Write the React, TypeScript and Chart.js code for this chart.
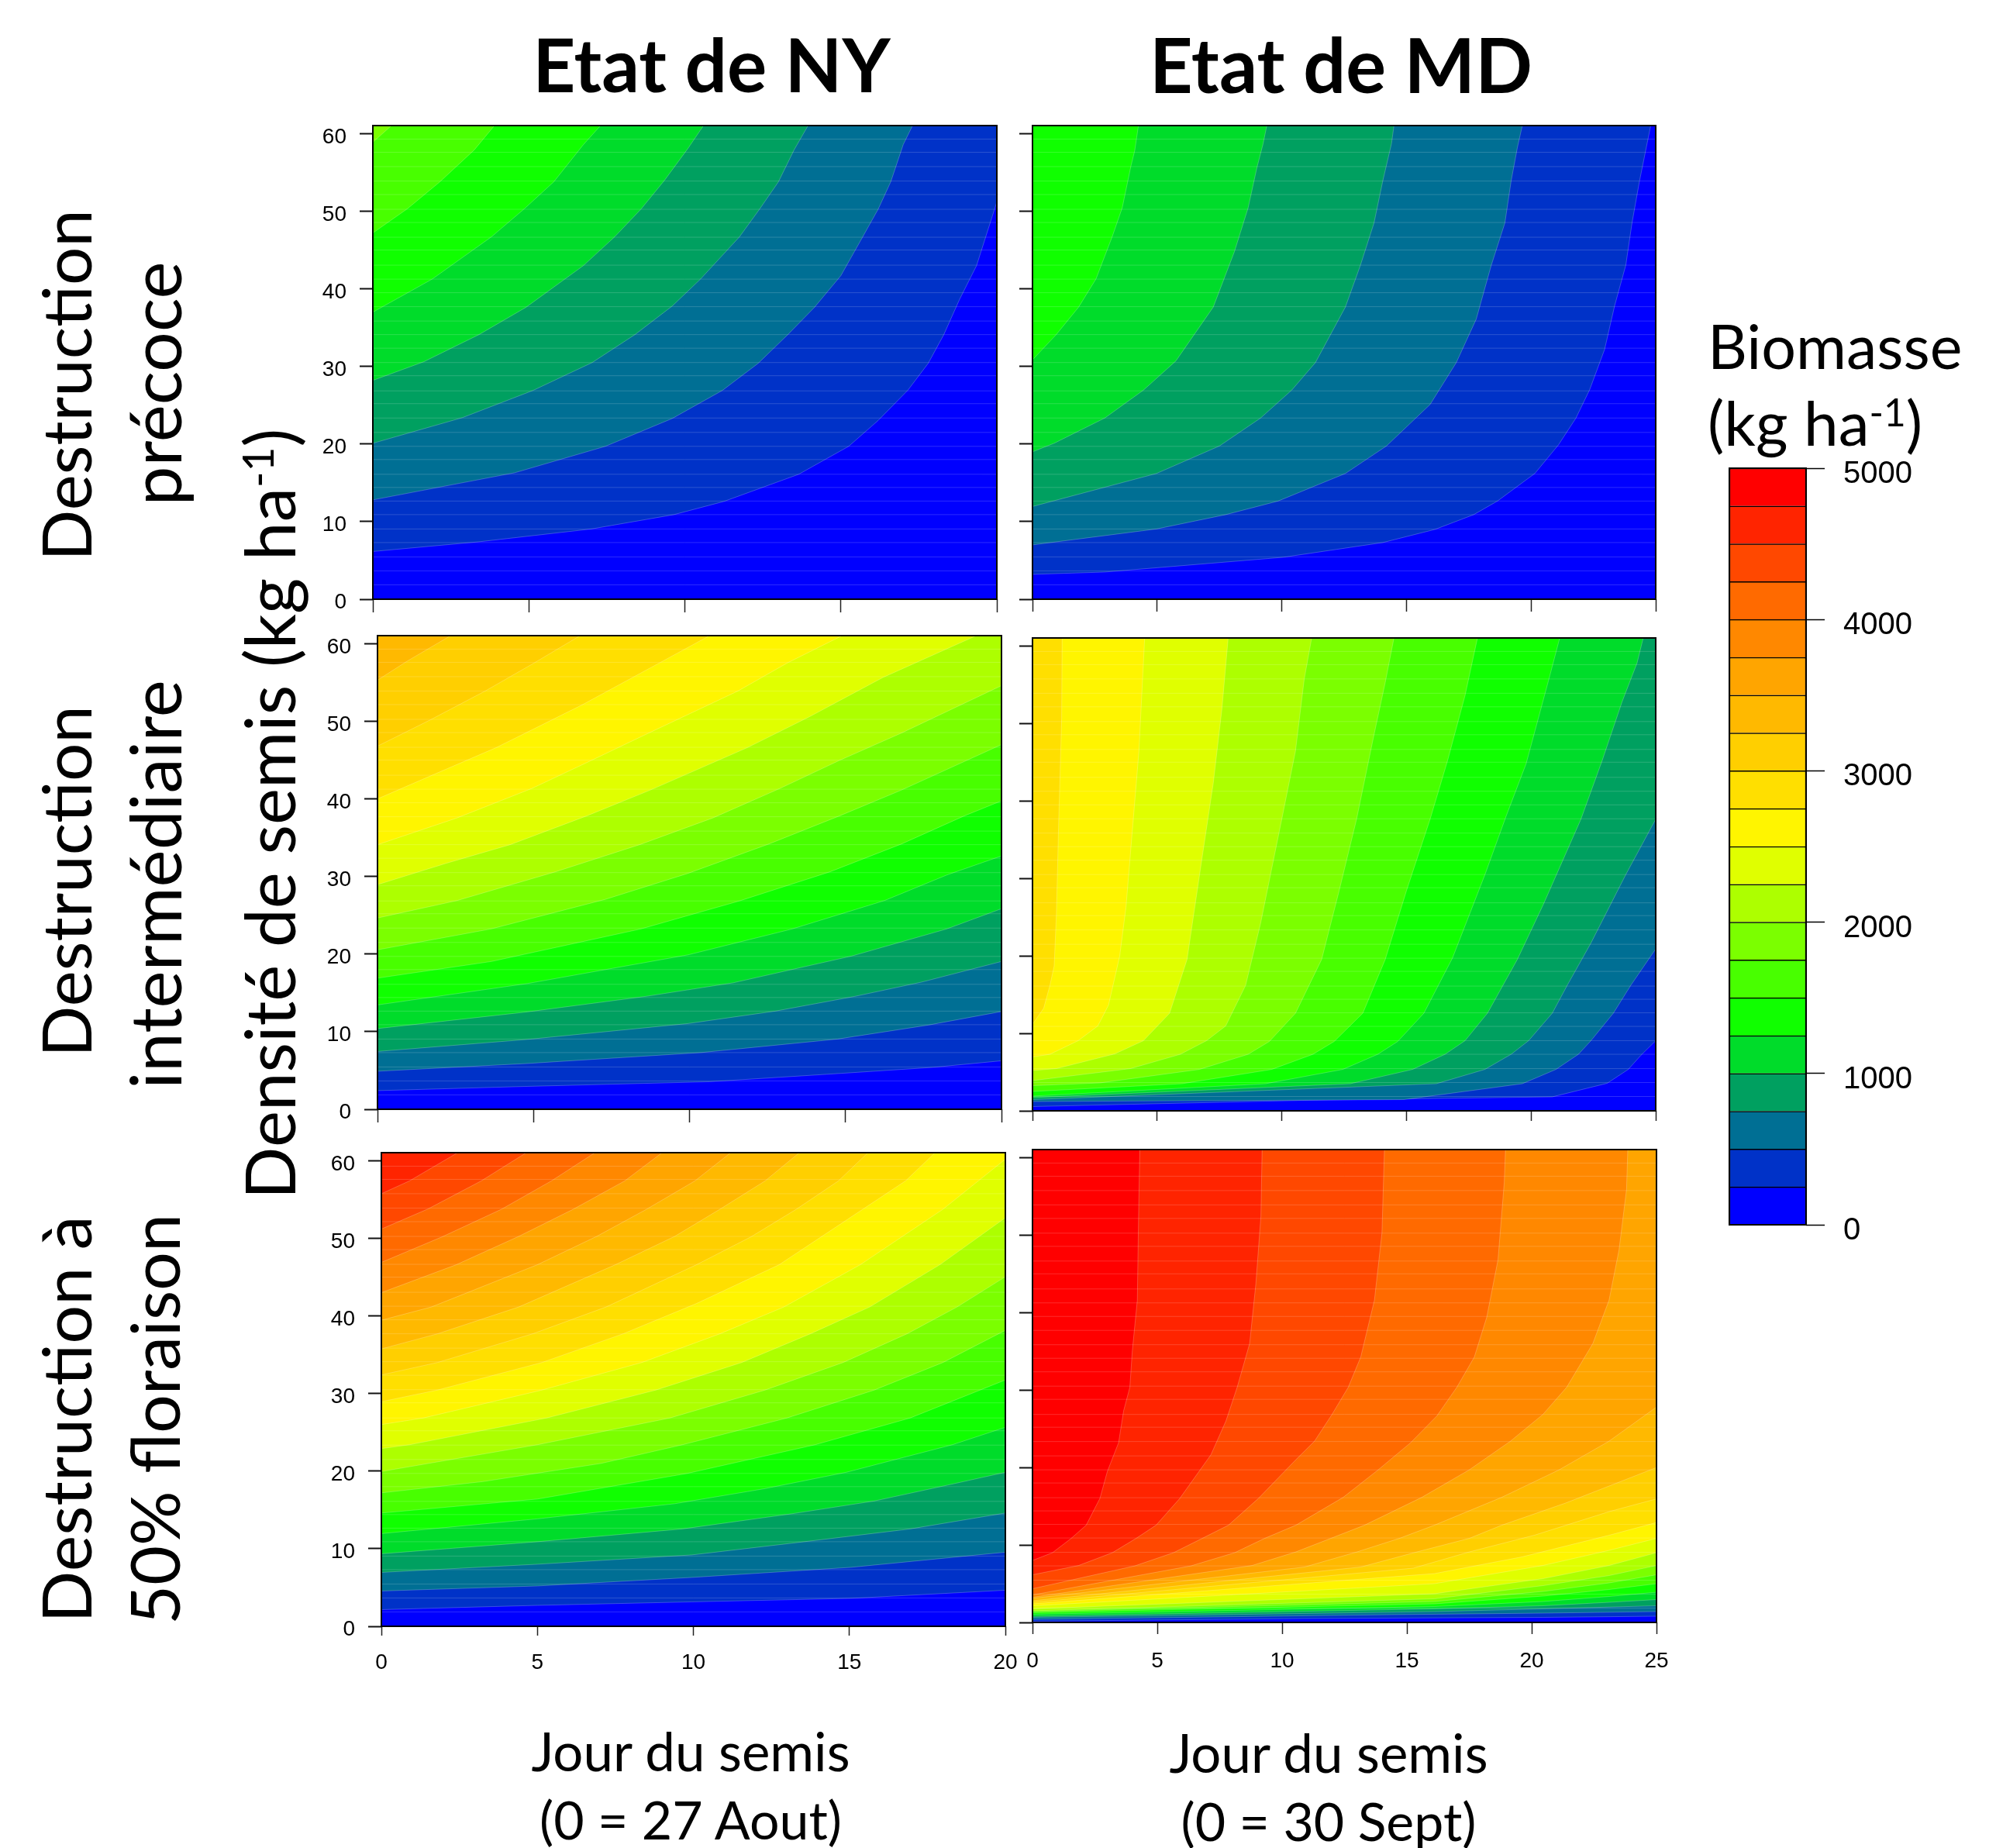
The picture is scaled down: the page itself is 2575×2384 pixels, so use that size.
import React, { useEffect, useRef } from "react";
import { Chart, registerables } from "chart.js";

Chart.register(...registerables);

// Colour of each 250 kg/ha band, from 0 up to 5000.
const BAND_COLORS = ["#0000FF","#0032C8","#006F94","#00A060","#00DC2A","#10FF00","#48FF00","#7BFF00","#ADFF00","#E0FF00","#FFF500","#FFDF00","#FFCF00","#FFB900","#FFA500","#FF8800","#FF6A00","#FF4800","#FF2400","#FF0000"];
const BAND_WIDTH = [250];
const BIOMASS_TICKS = [0,1000,2000,3000,4000,5000];
const DENSITY_TICKS = [0,10,20,30,40,50,60];
const NY_DAY_TICKS = [0,5,10,15,20];
const MD_DAY_TICKS = [0,5,10,15,20,25];
// Rows of the underlying grid, which leave pale seams in the filled contours.
const GRID_ROWS = [1.85,3.65,5.45,7.3,9.05,10.9,12.65,14.4,16.1,18,19.7,21.5,23.35,25.2,26.85,28.8,30.5,32.35,34.1,35.85,37.7,39.5,41.25,43.05,45,46.65,48.55,50.25,52.15,53.9,55.75,57.6,59.3];

// Each list holds the iso-lines of a panel, lowest level first, as [day, density].
const NY_EARLY = [
  [[0,6.15],[3.4,7.4],[7,9.05],[9.65,10.9],[11.25,12.6],[13.65,16.1],[15.25,19.7],[16.2,23.05],[17.15,26.95],[17.8,30.4],[18.3,34.1],[18.8,38.6],[19.35,43],[20,51.2]],
  [[0,12.8],[4.55,16.3],[7.45,19.7],[9.6,23.3],[11.2,26.9],[12.35,30.4],[13.3,34.1],[14.15,37.6],[15,41.7],[15.7,46.7],[16.2,50.3],[16.6,53.8],[17,58.6],[17.3,61.05]],
  [[0,20.1],[2.87,23.4],[5.13,26.9],[7.03,30.5],[8.4,34.1],[9.6,37.8],[10.5,41.25],[11.75,46.7],[12.4,50.3],[13,53.8],[13.5,57.9],[13.95,61.05]],
  [[0,28.2],[1.63,30.6],[3.4,34.1],[4.9,37.6],[6.75,43],[7.75,46.7],[8.6,50.3],[9.35,54],[10.1,58.1],[10.6,61.05]],
  [[0,37],[1.9,41.25],[3.8,46.7],[4.85,50.3],[5.8,53.8],[6.75,58.6],[7.3,61.05]],
  [[0,47.2],[1.1,50.3],[2.15,53.8],[3.25,57.9],[3.9,61.05]],
  [[0,58.9],[0.6,61.05]],
];
const MD_EARLY = [
  [[0,3.2],[2.9,3.5],[10.05,5.4],[14.05,7.3],[16.15,9],[17.7,10.9],[18.65,12.65],[20.15,16.2],[21.1,19.9],[21.8,23.35],[22.35,27],[22.95,32.2],[23.35,37.8],[23.8,43.05],[24.05,48.5],[24.35,53.9],[24.8,61.05]],
  [[0,7],[4.97,9.05],[7.75,10.9],[9.85,12.65],[12.55,16.2],[14.2,19.75],[15.95,25.1],[17,30.5],[17.8,36.1],[18.4,43],[18.95,48.5],[19.2,53.9],[19.45,58.2],[19.65,61.05]],
  [[0,11.95],[4.97,16.2],[7.5,19.75],[9.15,23.35],[10.4,26.95],[11.35,30.5],[12.55,37.65],[13.15,43],[13.7,48.5],[14.05,53.9],[14.4,58.7],[14.5,61.05]],
  [[0,19],[0.87,20.1],[2.9,23.35],[4.45,26.95],[5.75,30.7],[7.25,37.65],[8.1,44.8],[8.65,50.45],[9,55.6],[9.25,58.7],[9.4,61.05]],
  [[0,30.85],[0.95,34.1],[1.85,37.65],[2.55,41.3],[3.2,46.75],[3.6,50.45],[3.95,55.85],[4.1,57.8],[4.25,61.05]],
];
const NY_MID = [
  [[0,2.4],[4.8,2.95],[10.65,3.55],[14.95,4.65],[17.8,5.4],[20,6.25]],
  [[0,4.9],[4.8,5.9],[10.35,7.3],[14.75,9.05],[17.65,10.85],[20,12.6]],
  [[0,7.45],[4.8,9],[9.95,11.05],[12.75,12.65],[15.3,14.55],[17.45,16.4],[20,19.05]],
  [[0,10.4],[4.8,12.55],[8.6,14.55],[11.4,16.3],[15.2,19.75],[18.25,23.25],[20,25.85]],
  [[0,13.45],[4.8,16.2],[9.95,19.9],[13.3,23.25],[16.25,26.9],[18.25,30.2],[20,32.65]],
  [[0,16.9],[3.65,19.05],[8.45,23.25],[11.6,26.85],[14.5,30.6],[16.8,34.2],[18.8,37.8],[20,39.75]],
  [[0,20.55],[3.65,23.25],[7.3,27.05],[9.95,30.4],[12.55,34.2],[14.8,37.8],[16.8,41.15],[20,47]],
  [[0,24.65],[2.55,26.9],[5.7,30.6],[8.4,34.1],[10.75,37.55],[12.9,41.35],[14.8,44.95],[16.8,48.5],[20,54.6]],
  [[0,28.95],[2.2,31.7],[4.25,34.1],[6.7,37.8],[8.75,41.15],[11.85,46.6],[13.85,50.6],[16.2,55.65],[19.2,61.05]],
  [[0,34.1],[2.55,37.55],[4.95,41.35],[6.85,44.95],[8.7,48.5],[11.55,53.9],[13.15,57.55],[14.9,61.05]],
  [[0,40],[1.75,43.05],[3.8,46.6],[6.55,52.1],[9.05,57.55],[10.65,61.05]],
  [[0,46.8],[1.7,50.2],[3.45,53.9],[4.95,57.35],[6.5,61.05]],
  [[0,55.3],[0.95,57.75],[2.35,61.05]],
];
const MD_MID = [
  [[0,0.55],[10.9,1.35],[20.85,1.8],[23.05,3.55],[23.9,5.35],[24.4,7.15],[25,9.05]],
  [[0,1.2],[14.9,1.45],[19.65,3.5],[21,5.35],[21.9,7.3],[22.4,9.05],[23.3,12.6],[24,16.2],[25,20.9]],
  [[0,1.45],[16.2,3.5],[18.15,5.35],[19.2,7.3],[19.9,9.05],[20.85,12.6],[21.45,16.2],[22.4,21.65],[23.8,30.5],[25,37.65]],
  [[0,1.7],[12.75,3.5],[15.25,5.35],[16.55,7.3],[17.35,9.05],[18.25,12.6],[19.45,19.55],[20.5,26.7],[22,37.65],[22.85,45.2],[23.65,52.8],[24.25,57.8],[24.5,61.05]],
  [[0,1.9],[9.35,3.5],[12.45,5.35],[13.85,7.3],[14.65,8.95],[15.7,12.6],[16.85,19.75],[18.15,30.5],[19,38.05],[19.8,44.8],[20.75,56.15],[21.15,61.05]],
  [[0,2.5],[6,3.5],[9.6,5.35],[11.25,7.3],[12.1,8.95],[13.25,12.6],[14.15,19.55],[15,28.4],[15.95,37.65],[16.65,45.2],[17.35,53.6],[17.85,61.05]],
  [[0,3.25],[2.7,3.6],[6.7,5.35],[8.65,7.3],[9.5,8.95],[10.55,12.6],[11.6,19.55],[12.3,28.4],[13,37.65],[13.7,48.55],[14.15,55.3],[14.5,61.05]],
  [[0,3.9],[3.93,5.45],[5.93,7.3],[6.98,9.05],[7.75,10.95],[8.55,16.2],[9.15,24.2],[10,37.65],[10.55,46.45],[10.9,55.7],[11.2,61.05]],
  [[0,5.2],[0.96,5.45],[3.3,7.35],[4.45,9.05],[5.5,12.6],[6.2,19.55],[6.8,32.6],[7.25,42.25],[7.6,51.9],[7.85,61.05]],
  [[0,6.95],[0.7,7.3],[1.83,9.05],[2.62,10.95],[3.05,13.65],[3.5,20],[3.75,26.3],[4,35.95],[4.27,46.45],[4.5,61.05]],
  [[0,11.15],[0.45,13.25],[0.7,16.2],[0.87,18.7],[0.96,25.45],[1.05,37.2],[1.17,50.7],[1.19,61.05]],
];
const NY_FLOWER = [
  [[0,2.15],[5,2.7],[9.95,3.15],[15.05,3.6],[20,4.65]],
  [[0,4.55],[5,5.2],[9.95,6.3],[15.05,7.6],[20,9.55]],
  [[0,6.95],[5,8],[9.95,9.2],[13.45,10.85],[16.95,12.55],[20,14.6]],
  [[0,9.35],[5,10.9],[9.65,12.55],[13.15,14.5],[15.8,16.15],[18.15,18.2],[20,19.85]],
  [[0,11.95],[5,13.85],[9.4,15.8],[12.3,17.75],[14.9,19.85],[18.3,23.4],[20,25.65]],
  [[0,14.6],[5,16.4],[9.8,19.7],[13.9,23.4],[16.95,26.85],[20,31.75]],
  [[0,17.2],[3.25,18.65],[7.05,21],[9.65,23.4],[13,26.85],[15.8,30.45],[18,34],[20,38.15]],
  [[0,19.95],[5,23.4],[9.25,26.85],[12.3,30.45],[14.8,34],[16.85,37.7],[18.45,41.15],[20,45.05]],
  [[0,22.9],[0.9,23.4],[5.3,26.85],[8.8,30.45],[11.55,34],[13.75,37.7],[15.65,41.15],[17.9,46.6],[20,52.65]],
  [[0,26],[1.35,26.85],[5.15,30.45],[8.35,34],[10.85,37.7],[12.9,41.15],[15.35,46.6],[18,53.75],[20,60.2]],
  [[0,28.95],[1.8,30.45],[5.15,34],[7.75,37.7],[10.1,41.6],[12.75,46.6],[14.85,52.2],[16.8,57.4],[17.75,61.05]],
  [[0,32.4],[1.8,34],[4.85,37.7],[7.2,41.15],[10.1,46.6],[11.85,50.2],[13.3,53.75],[14.65,57.4],[15.6,61.05]],
  [[0,35.75],[1.8,37.7],[4.4,41.15],[7.5,46.6],[9.4,50.25],[10.85,53.75],[12.3,57.4],[13.4,61.05]],
  [[0,39.45],[1.6,41.15],[5,46.6],[6.9,50.25],[8.5,53.75],[10.05,57.4],[11.2,61.05]],
  [[0,43],[2.4,46.6],[4.4,50.25],[6.15,53.75],[7.8,57.4],[9,61.05]],
  [[0,46.9],[1.95,50.2],[3.85,53.75],[5.45,57.4],[6.85,61.05]],
  [[0,51.2],[1.5,53.8],[3.2,57.4],[4.65,61.05]],
  [[0,55.75],[0.9,57.4],[2.45,61.05]],
];
const MD_FLOWER = [
  [[0,0.15],[10.9,0.5],[20.45,0.65],[25,0.8]],
  [[0,0.4],[14.4,1],[20.45,1.2],[25,1.4]],
  [[0,0.65],[16.1,1.4],[20.45,1.75],[25,2.15]],
  [[0,0.8],[16.1,1.75],[20.45,2.15],[23.1,2.6],[25,2.95]],
  [[0,1.05],[16.1,2.05],[20.45,2.7],[23.1,3.35],[25,3.9]],
  [[0,1.25],[16.1,2.4],[20.45,3.4],[23.1,4.25],[25,5]],
  [[0,1.4],[16.1,2.7],[20.45,4],[23.1,5.1],[25,6.15]],
  [[0,1.5],[16.1,3.05],[20.45,4.75],[23.1,6.05],[25,7.35]],
  [[0,1.75],[16.1,3.7],[20.45,5.65],[23.1,7.35],[25,9]],
  [[0,2.15],[16.1,5],[20.45,7.35],[23.1,9.3],[25,10.85]],
  [[0,2.4],[16.1,6.3],[19.6,8.45],[23.1,11.25],[25,12.9]],
  [[0,2.6],[15.25,7],[17.5,9.1],[20.1,11.25],[23.1,14.3],[25,15.95]],
  [[0,2.8],[13.15,7.15],[15.4,9.1],[17.5,10.85],[18.8,12.55],[21.35,15.4],[25,20]],
  [[0,3.1],[10.9,7.15],[13,9.1],[14.7,10.85],[16.1,12.55],[18.8,16.15],[21.1,19.7],[23.1,23.4],[25,27.8]],
  [[0,3.25],[8.8,7.35],[10.55,9.1],[11.95,10.85],[13.3,12.55],[15.6,16.15],[17.5,19.7],[19.15,23.4],[20.45,26.85],[21.4,30.35],[22.45,36],[23.1,41.6],[23.5,48.1],[23.8,55.9],[23.85,61.05]],
  [[0,3.55],[6.35,7.3],[8.1,9],[9.3,10.85],[10.55,12.55],[12.45,16.15],[13.85,19.7],[15.15,23.2],[16.2,26.65],[17,30.35],[17.7,34.25],[18.2,39.4],[18.65,46.8],[18.9,56.75],[18.95,61.05]],
  [[0,4.35],[4.1,7.3],[5.65,9],[6.8,10.85],[7.85,12.55],[9.05,16],[10.55,21],[11.3,23.4],[12,26.85],[12.65,30.35],[13.15,34.25],[13.7,41.6],[14,50.25],[14.1,61.05]],
  [[0,6.15],[1.85,7.35],[3.2,9],[4.15,10.85],[4.95,12.55],[5.9,16],[7.15,21.65],[7.75,26],[8.2,30.35],[8.7,36],[8.95,43.75],[9.15,52.4],[9.2,61.05]],
  [[0,8],[0.8,9],[1.55,10.85],[2.15,12.55],[2.7,16],[3,19.5],[3.45,23.2],[3.65,27.3],[3.9,30.35],[4,35.1],[4.2,41.6],[4.25,52.4],[4.3,61.05]],
];

const Y_MAX = 61.04;
const PAD = { left: 80, right: 40, top: 20, bottom: 70 };
const FRAME = {
  id: "frame",
  afterDraw(chart: any) {
    const { ctx, chartArea: a } = chart;
    ctx.save();
    ctx.strokeStyle = "#000";
    ctx.lineWidth = 2;
    ctx.strokeRect(a.left, a.top, a.right - a.left, a.bottom - a.top);
    ctx.restore();
  },
};
const noScalePadding = (s: any) => { s.paddingTop = 0; s.paddingBottom = 0; s.paddingLeft = 0; s.paddingRight = 0; };
// A blank first line drops the label slightly below its tick, as in the reference.
const lowered = (v: any) => ["", String(v)];

function ContourPanel({ rect, contours, dayTicks, showX, showY, tickLen }: any) {
  const ref = useRef<HTMLCanvasElement>(null);
  const xMax = dayTicks[dayTicks.length - 1];
  useEffect(() => {
    const pts = (list: number[][]) => list.map(([x, y]) => ({ x, y }));
    const fills = contours.map((line: number[][], i: number) => ({
      data: pts(line),
      fill: "end",
      backgroundColor: BAND_COLORS[i + 1],
      borderColor: "rgba(255,255,255,0.22)",
      borderWidth: 1,
      pointRadius: 0,
    })).reverse();
    const seams = GRID_ROWS.map((y) => ({
      data: [{ x: 0, y }, { x: xMax, y }],
      fill: false,
      borderColor: "rgba(255,255,255,0.17)",
      borderWidth: 1,
      pointRadius: 0,
    }));
    const floor = {
      data: [{ x: 0, y: 0 }, { x: xMax, y: 0 }],
      fill: "end",
      backgroundColor: BAND_COLORS[0],
      borderWidth: 0,
      pointRadius: 0,
    };
    const chart = new Chart(ref.current as any, {
      type: "line",
      data: { datasets: [...seams, ...fills, floor] as any },
      plugins: [FRAME],
      options: {
        animation: false,
        responsive: false,
        events: [],
        layout: { autoPadding: false, padding: { top: PAD.top, right: PAD.right } },
        plugins: { legend: { display: false }, tooltip: { enabled: false } },
        scales: {
          x: {
            type: "linear", min: 0, max: xMax,
            border: { display: false },
            grid: { drawOnChartArea: false, drawTicks: true, tickLength: tickLen, tickColor: "#222", tickWidth: 1.5 },
            ticks: { display: showX, color: "#000", padding: 18, maxRotation: 0, autoSkip: false, font: { family: "Liberation Sans", size: 28 } },
            afterBuildTicks: (s: any) => { s.ticks = dayTicks.map((value: number) => ({ value })); },
            afterFit: (s: any) => { s.height = PAD.bottom; noScalePadding(s); },
          },
          y: {
            type: "linear", min: 0, max: Y_MAX,
            border: { display: false },
            grid: { drawOnChartArea: false, drawTicks: true, tickLength: 17, tickColor: "#111", tickWidth: 2 },
            ticks: { display: showY, color: "#000", padding: 17, autoSkip: false, callback: lowered, font: { family: "Liberation Sans", size: 28, lineHeight: 0.32 } },
            afterBuildTicks: (s: any) => { s.ticks = DENSITY_TICKS.map((value) => ({ value })); },
            afterFit: (s: any) => { s.width = PAD.left; noScalePadding(s); },
          },
        },
      } as any,
    });
    return () => chart.destroy();
  }, []);
  const w = rect.right - rect.left + PAD.left + PAD.right;
  const h = rect.bottom - rect.top + PAD.top + PAD.bottom;
  return (
    <canvas ref={ref} width={w} height={h}
      style={{ position: "absolute", left: rect.left - PAD.left, top: rect.top - PAD.top, width: w, height: h }} />
  );
}

function ColorBar() {
  const ref = useRef<HTMLCanvasElement>(null);
  useEffect(() => {
    const chart = new Chart(ref.current as any, {
      type: "bar",
      data: {
        labels: ["Biomasse"],
        datasets: BAND_COLORS.map((c) => ({
          data: BAND_WIDTH, backgroundColor: c, borderColor: "#000", borderWidth: 1.5, barPercentage: 1, categoryPercentage: 1, stack: "s",
        })),
      },
      plugins: [FRAME],
      options: {
        animation: false,
        responsive: false,
        events: [],
        layout: { autoPadding: false, padding: { top: 20, left: 10, bottom: 34 } },
        plugins: { legend: { display: false }, tooltip: { enabled: false } },
        scales: {
          x: { display: false, stacked: true },
          y: {
            position: "right", stacked: true, min: 0, max: 5000,
            border: { display: false },
            grid: { drawOnChartArea: false, drawTicks: true, tickLength: 24, tickColor: "#000", tickWidth: 1.5 },
            ticks: { color: "#000", padding: 24, autoSkip: false, callback: lowered, font: { family: "Liberation Sans", size: 40, lineHeight: 0.4 } },
            afterBuildTicks: (s: any) => { s.ticks = BIOMASS_TICKS.map((value) => ({ value })); },
            afterFit: (s: any) => { s.width = 170; noScalePadding(s); },
          },
        },
      } as any,
    });
    return () => chart.destroy();
  }, []);
  return (
    <canvas ref={ref} width={279} height={1030}
      style={{ position: "absolute", left: 2221, top: 584, width: 279, height: 1030 }} />
  );
}

const FONT = "Lato, 'Noto Sans', sans-serif";
function Label({ x, y, size, rotate, bold, left, children }: any) {
  return (
    <div style={{
      position: "absolute", left: x, top: y, fontFamily: FONT, fontSize: size, fontWeight: bold ? 700 : 400,
      color: "#000", whiteSpace: "nowrap", lineHeight: 1,
      transform: `translate(${left ? "0" : "-50%"},-50%)${rotate ? " rotate(-90deg)" : ""}`,
    }}>{children}</div>
  );
}
const Sup = ({ children }: any) => <sup style={{ fontSize: "0.62em", lineHeight: 0, verticalAlign: "0.5em" }}>{children}</sup>;

export default function App() {
  return (
    <div style={{ position: "absolute", left: 0, top: 0, width: 2575, height: 2384, background: "#fff", overflow: "hidden" }}>
      <ContourPanel rect={{ left: 481, right: 1286, top: 162, bottom: 773 }} contours={NY_EARLY} dayTicks={NY_DAY_TICKS} showX={false} showY tickLen={17} />
      <ContourPanel rect={{ left: 1332, right: 2136, top: 162, bottom: 773 }} contours={MD_EARLY} dayTicks={MD_DAY_TICKS} showX={false} showY={false} tickLen={16} />
      <ContourPanel rect={{ left: 487, right: 1292, top: 820, bottom: 1431 }} contours={NY_MID} dayTicks={NY_DAY_TICKS} showX={false} showY tickLen={17} />
      <ContourPanel rect={{ left: 1332, right: 2136, top: 823, bottom: 1433 }} contours={MD_MID} dayTicks={MD_DAY_TICKS} showX={false} showY={false} tickLen={13} />
      <ContourPanel rect={{ left: 492, right: 1297, top: 1487, bottom: 2098 }} contours={NY_FLOWER} dayTicks={NY_DAY_TICKS} showX showY tickLen={12} />
      <ContourPanel rect={{ left: 1332, right: 2137, top: 1483, bottom: 2093 }} contours={MD_FLOWER} dayTicks={MD_DAY_TICKS} showX showY={false} tickLen={15} />
      <ColorBar />

      <Label x={918} y={82} size={96} bold>Etat de NY</Label>
      <Label x={1730} y={82} size={97} bold>Etat de MD</Label>

      <Label x={84} y={497} size={87} rotate>Destruction</Label>
      <Label x={198} y={495} size={91} rotate>précoce</Label>
      <Label x={84} y={1137} size={87} rotate>Destruction</Label>
      <Label x={198} y={1141} size={91} rotate>intermédiaire</Label>
      <Label x={84} y={1831} size={88} rotate>Destruction à</Label>
      <Label x={198} y={1831} size={88} rotate>50% floraison</Label>
      <Label x={346} y={1050} size={89} rotate>Densité de semis (kg ha<Sup>-1</Sup>)</Label>

      <Label x={891} y={2258} size={69}>Jour du semis</Label>
      <Label x={891} y={2347} size={68}>(0 = 27 Aout)</Label>
      <Label x={1714} y={2260} size={69}>Jour du semis</Label>
      <Label x={1714} y={2349} size={68}>(0 = 30 Sept)</Label>

      <Label x={2203} y={445} size={79} left>Biomasse</Label>
      <Label x={2203} y={544} size={80} left>(kg ha<Sup>-1</Sup>)</Label>
    </div>
  );
}
